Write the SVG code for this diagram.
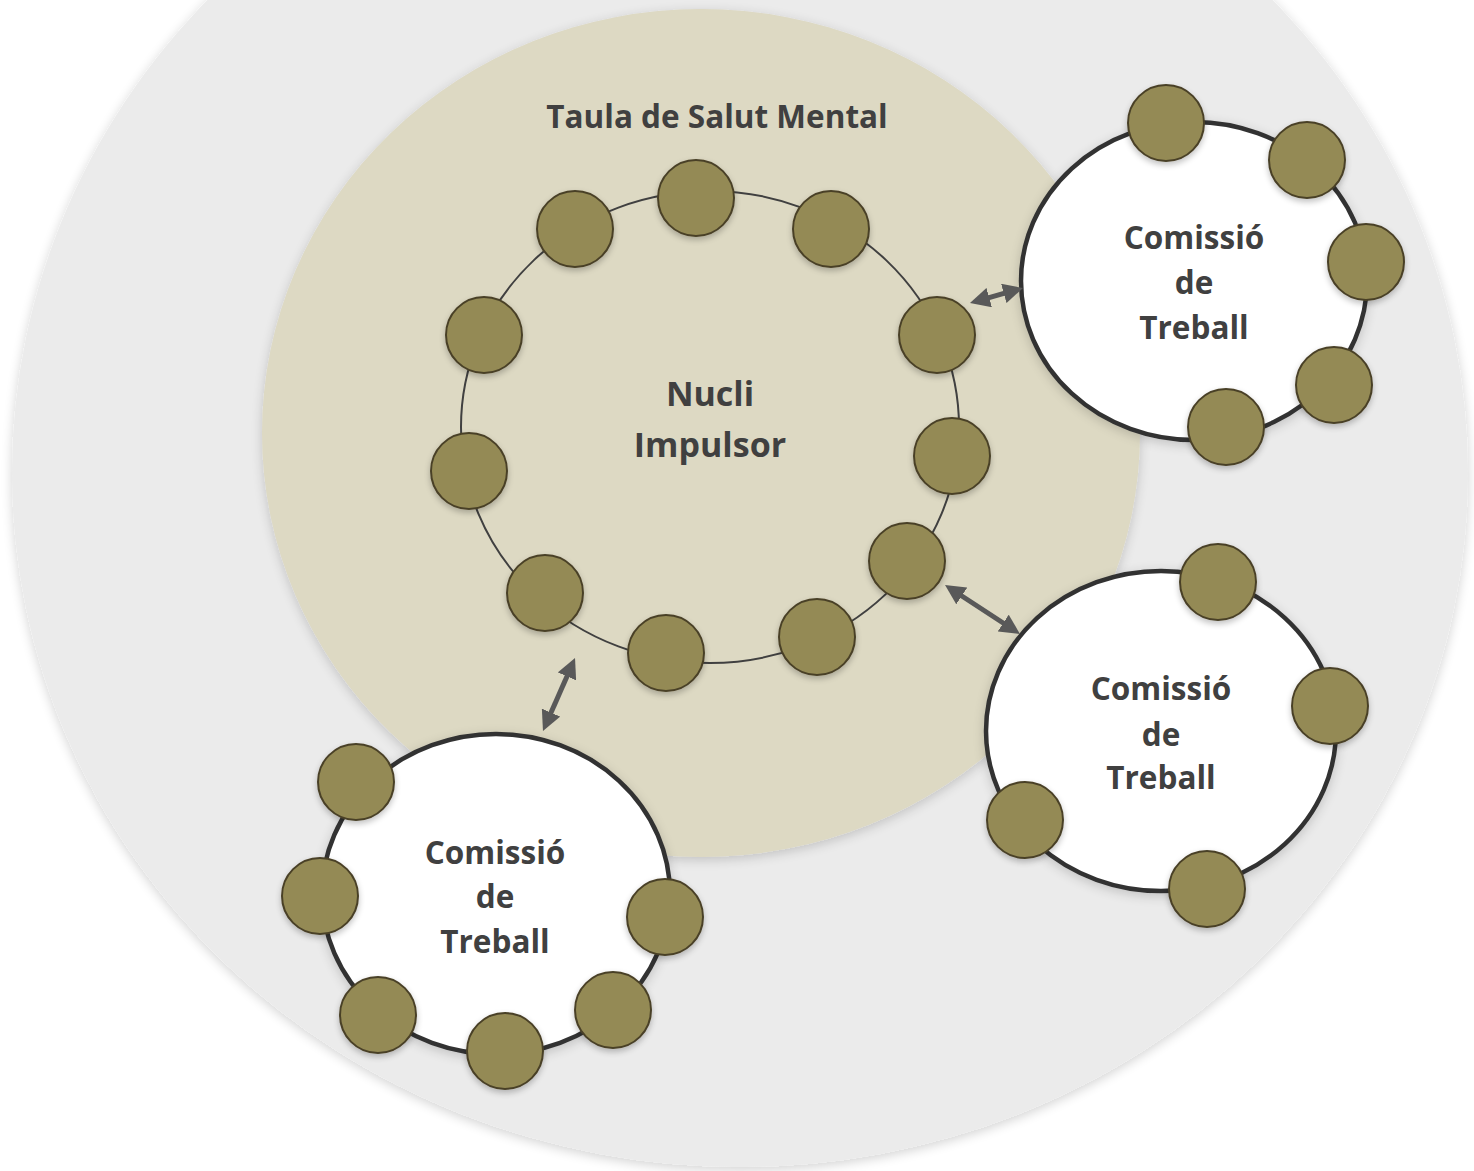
<svg xmlns="http://www.w3.org/2000/svg" width="1474" height="1171" viewBox="0 0 1474 1171">
<defs>
<filter id="soft" x="-10%" y="-10%" width="120%" height="120%">
<feGaussianBlur in="SourceAlpha" stdDeviation="6"/>
<feOffset dx="0" dy="3" result="b"/>
<feComponentTransfer><feFuncA type="linear" slope="0.18"/></feComponentTransfer>
<feMerge><feMergeNode/><feMergeNode in="SourceGraphic"/></feMerge>
</filter>
<filter id="dot" x="-30%" y="-30%" width="160%" height="160%">
<feGaussianBlur in="SourceAlpha" stdDeviation="3"/>
<feOffset dx="0" dy="3" result="b"/>
<feComponentTransfer><feFuncA type="linear" slope="0.25"/></feComponentTransfer>
<feMerge><feMergeNode/><feMergeNode in="SourceGraphic"/></feMerge>
</filter>
<marker id="ah" viewBox="0 0 20 20" refX="10" refY="10" markerWidth="20" markerHeight="20" markerUnits="userSpaceOnUse" orient="auto-start-reverse">
<path d="M0,0 L20,10 L0,20 z" fill="#595959"/>
</marker>
</defs>
<style>
.lbl{font-family:"Open Sans","Liberation Sans",sans-serif;font-weight:bold;fill:#404040;text-anchor:middle}
.dot{fill:#948a54;stroke:#4a4128;stroke-width:2}
.com{fill:#ffffff;stroke:#333333;stroke-width:4.5}
.arr{stroke:#595959;stroke-width:5;fill:none;marker-start:url(#ah);marker-end:url(#ah)}
</style>
<rect width="1474" height="1171" fill="#ffffff"/>
<g id="outer">
<ellipse cx="740" cy="473" rx="728" ry="694" fill="#ebebeb" filter="url(#soft)"/>
</g>
<g id="taula">
<ellipse cx="701" cy="433" rx="439" ry="424" fill="#ddd9c3" filter="url(#soft)"/>
<text class="lbl" x="717" y="128" font-size="31.5">Taula de Salut Mental</text>
</g>
<g id="nucli">
<ellipse cx="710" cy="427" rx="249" ry="236" fill="none" stroke="#404040" stroke-width="2"/>
<text class="lbl" x="710" y="406" font-size="34">Nucli</text>
<text class="lbl" x="710" y="457" font-size="34">Impulsor</text>
<g filter="url(#dot)">
<circle class="dot" cx="696" cy="198" r="38"/>
<circle class="dot" cx="575" cy="229" r="38"/>
<circle class="dot" cx="831" cy="229" r="38"/>
<circle class="dot" cx="484" cy="335" r="38"/>
<circle class="dot" cx="937" cy="335" r="38"/>
<circle class="dot" cx="469" cy="471" r="38"/>
<circle class="dot" cx="952" cy="456" r="38"/>
<circle class="dot" cx="545" cy="593" r="38"/>
<circle class="dot" cx="907" cy="561" r="38"/>
<circle class="dot" cx="666" cy="653" r="38"/>
<circle class="dot" cx="817" cy="637" r="38"/>
</g>
</g>
<g id="comissio1">
<ellipse class="com" cx="1194" cy="281" rx="173" ry="159" filter="url(#soft)"/>
<text class="lbl" x="1194" y="249" font-size="31.5">Comissió</text>
<text class="lbl" x="1194" y="294" font-size="31.5">de</text>
<text class="lbl" x="1194" y="339" font-size="31.5">Treball</text>
<g filter="url(#dot)">
<circle class="dot" cx="1166" cy="123" r="38"/>
<circle class="dot" cx="1307" cy="160" r="38"/>
<circle class="dot" cx="1366" cy="262" r="38"/>
<circle class="dot" cx="1334" cy="385" r="38"/>
<circle class="dot" cx="1226" cy="427" r="38"/>
</g>
</g>
<g id="comissio2">
<ellipse class="com" cx="1161" cy="731" rx="175" ry="160" filter="url(#soft)"/>
<text class="lbl" x="1161" y="700" font-size="31.5">Comissió</text>
<text class="lbl" x="1161" y="746" font-size="31.5">de</text>
<text class="lbl" x="1161" y="789" font-size="31.5">Treball</text>
<g filter="url(#dot)">
<circle class="dot" cx="1218" cy="582" r="38"/>
<circle class="dot" cx="1330" cy="706" r="38"/>
<circle class="dot" cx="1025" cy="820" r="38"/>
<circle class="dot" cx="1207" cy="889" r="38"/>
</g>
</g>
<g id="comissio3">
<ellipse class="com" cx="496" cy="894" rx="174" ry="160" filter="url(#soft)"/>
<text class="lbl" x="495" y="864" font-size="31.5">Comissió</text>
<text class="lbl" x="495" y="908" font-size="31.5">de</text>
<text class="lbl" x="495" y="953" font-size="31.5">Treball</text>
<g filter="url(#dot)">
<circle class="dot" cx="356" cy="782" r="38"/>
<circle class="dot" cx="320" cy="896" r="38"/>
<circle class="dot" cx="665" cy="917" r="38"/>
<circle class="dot" cx="378" cy="1015" r="38"/>
<circle class="dot" cx="613" cy="1010" r="38"/>
<circle class="dot" cx="505" cy="1051" r="38"/>
</g>
</g>
<g id="connectors">
<line class="arr" x1="979.6" y1="300.3" x2="1013.4" y2="290.7"/>
<line class="arr" x1="953.4" y1="590.5" x2="1011.6" y2="628.5"/>
<line class="arr" x1="571" y1="667.2" x2="547" y2="721.8"/>
</g>
</svg>
